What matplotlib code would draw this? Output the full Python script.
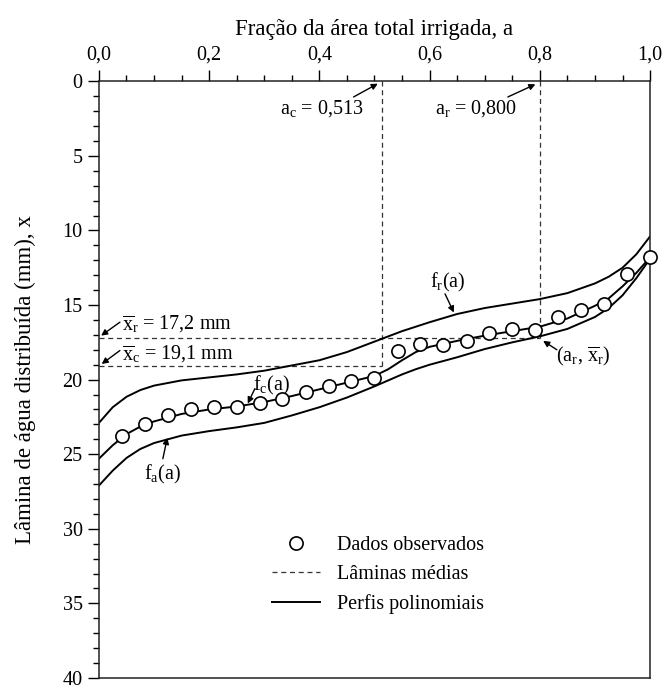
import matplotlib.pyplot as plt
from matplotlib.ticker import FixedLocator, MultipleLocator

plt.rcParams['font.family'] = ['Liberation Serif', 'DejaVu Serif']
plt.rcParams['mathtext.fontset'] = 'custom'
plt.rcParams['mathtext.rm'] = 'Liberation Serif'
plt.rcParams['mathtext.it'] = 'Liberation Serif:italic'
plt.rcParams['font.size'] = 14.5

# observed points (fraction of area, depth in mm)
frac_obs = [0.042, 0.083, 0.125, 0.167, 0.208, 0.250, 0.292, 0.333,
            0.375, 0.417, 0.458, 0.500, 0.542, 0.583, 0.625, 0.667,
            0.708, 0.750, 0.792, 0.833, 0.875, 0.917, 0.958, 1.000]
depth_obs = [23.8, 23.0, 22.4, 22.0, 21.85, 21.85, 21.55, 21.3,
             20.85, 20.45, 20.1, 19.9, 18.1, 17.6, 17.65, 17.4,
             16.9, 16.6, 16.65, 15.8, 15.3, 14.9, 12.9, 11.8]

# polynomial profiles
frac_curve = [0.0, 0.025, 0.05, 0.075, 0.1, 0.15, 0.2, 0.25, 0.3, 0.35,
              0.4, 0.45, 0.5, 0.525, 0.55, 0.575, 0.6, 0.65, 0.7, 0.75,
              0.8, 0.85, 0.9, 0.925, 0.95, 0.975, 1.0]
f_r = [22.9, 21.85, 21.15, 20.7, 20.4, 20.05, 19.85, 19.65, 19.4, 19.05,
       18.7, 18.15, 17.45, 17.1, 16.75, 16.45, 16.15, 15.6, 15.2, 14.9,
       14.6, 14.2, 13.55, 13.1, 12.5, 11.6, 10.4]
f_c = [25.3, 24.4, 23.65, 23.15, 22.8, 22.3, 22.0, 21.8, 21.5, 21.1,
       20.65, 20.2, 19.75, 19.3, 18.7, 18.15, 17.8, 17.4, 17.05, 16.75,
       16.45, 15.9, 15.05, 14.55, 13.75, 12.85, 11.8]
f_a = [27.1, 26.1, 25.25, 24.65, 24.25, 23.75, 23.45, 23.2, 22.9, 22.4,
       21.85, 21.2, 20.45, 20.05, 19.65, 19.3, 19.0, 18.5, 17.95, 17.5,
       17.1, 16.6, 15.8, 15.2, 14.35, 13.2, 11.9]

a_c, a_r = 0.513, 0.800
x_c, x_r = 19.1, 17.2

x_ticks = [0.0, 0.2, 0.4, 0.6, 0.8, 1.0]
x_tick_labels = ['0,0', '0,2', '0,4', '0,6', '0,8', '1,0']
y_ticks = [0, 5, 10, 15, 20, 25, 30, 35, 40]

fig = plt.figure(figsize=(6.64, 6.89), dpi=100)
ax = fig.add_axes([0.149, 0.016, 0.830, 0.866])

dash = (0, (4.0, 3.0))
dcol = '#333333'
ax.plot([0, a_r], [x_r, x_r], color=dcol, lw=0.9, linestyle=dash,
        label='Lâminas médias')
ax.plot([0, a_c], [x_c, x_c], color=dcol, lw=0.9, linestyle=dash)
ax.plot([a_c, a_c], [0, x_c], color=dcol, lw=0.9, linestyle=dash)
ax.plot([a_r, a_r], [0, x_r], color=dcol, lw=0.9, linestyle=dash)

ax.plot(frac_curve, f_r, color='black', lw=1.4, label='Perfis polinomiais')
ax.plot(frac_curve, f_c, color='black', lw=1.4)
ax.plot(frac_curve, f_a, color='black', lw=1.4)

ax.plot(frac_obs, depth_obs, 'o', mfc='white', mec='black', ms=9.5, mew=1.2,
        clip_on=False, zorder=5, label='Dados observados')

ax.set_xlim(0, 1)
ax.set_ylim(40, 0)

ax.xaxis.tick_top()
ax.xaxis.set_label_position('top')
ax.xaxis.set_major_locator(FixedLocator(x_ticks))
ax.set_xticklabels(x_tick_labels)
ax.xaxis.set_minor_locator(MultipleLocator(0.05))
ax.yaxis.set_major_locator(FixedLocator(y_ticks))
ax.yaxis.set_minor_locator(MultipleLocator(1))
ax.tick_params(which='major', direction='out', length=7.8, width=1.0, pad=4)
ax.tick_params(which='minor', direction='out', length=4.2, width=1.0)
ax.tick_params(axis='y', which='both', right=False)
for s in ax.spines.values():
    s.set_linewidth(1.1)
    s.set_color('#222222')

ax.set_xlabel('Fração da área total irrigada, a', fontsize=16.5, labelpad=8)
ax.set_ylabel('Lâmina de água distribuída (mm), x', fontsize=16.5)
ax.yaxis.set_label_coords(-0.115, 0.5)

arrow = dict(arrowstyle='-|>', color='black', lw=1.0, mutation_scale=9,
             shrinkA=0, shrinkB=0)

ax.text(0.404, 2.17, r'a$_\mathrm{c}$ = 0,513', ha='center', va='baseline')
ax.annotate('', xy=(0.506, 0.16), xytext=(0.462, 1.05), arrowprops=arrow)
ax.text(0.685, 2.17, r'a$_\mathrm{r}$ = 0,800', ha='center', va='baseline')
ax.annotate('', xy=(0.792, 0.2), xytext=(0.742, 1.05), arrowprops=arrow)

ax.text(0.042, 16.67, r'$\overline{\mathrm{x}}_\mathrm{r}$ = 17,2 mm',
        ha='left', va='baseline')
ax.annotate('', xy=(0.004, 17.05), xytext=(0.038, 16.15), arrowprops=arrow)
ax.text(0.042, 18.68, r'$\overline{\mathrm{x}}_\mathrm{c}$ = 19,1 mm',
        ha='left', va='baseline')
ax.annotate('', xy=(0.005, 18.95), xytext=(0.038, 18.05), arrowprops=arrow)

ax.text(0.314, 20.7, r'f$_\mathrm{c}$(a)', ha='center', va='baseline')
ax.annotate('', xy=(0.270, 21.6), xytext=(0.283, 20.6), arrowprops=arrow)
ax.text(0.116, 26.67, r'f$_\mathrm{a}$(a)', ha='center', va='baseline')
ax.annotate('', xy=(0.124, 23.9), xytext=(0.116, 25.3), arrowprops=arrow)
ax.text(0.632, 13.85, r'f$_\mathrm{r}$(a)', ha='center', va='baseline')
ax.annotate('', xy=(0.644, 15.5), xytext=(0.628, 14.25), arrowprops=arrow)
ax.text(0.878, 18.77, r'(a$_\mathrm{r}$, $\overline{\mathrm{x}}_\mathrm{r}$)',
        ha='center', va='baseline')
ax.annotate('', xy=(0.806, 17.4), xytext=(0.831, 18.0), arrowprops=arrow)

handles, labels = ax.get_legend_handles_labels()
order = [labels.index('Dados observados'), labels.index('Lâminas médias'),
         labels.index('Perfis polinomiais')]
ax.legend([handles[i] for i in order], [labels[i] for i in order],
          loc='upper left', bbox_to_anchor=(0.314, 0.238), frameon=False,
          borderpad=0, borderaxespad=0, handlelength=2.4,
          handletextpad=0.85, labelspacing=0.5)

fig.savefig('out.png', dpi=100)
